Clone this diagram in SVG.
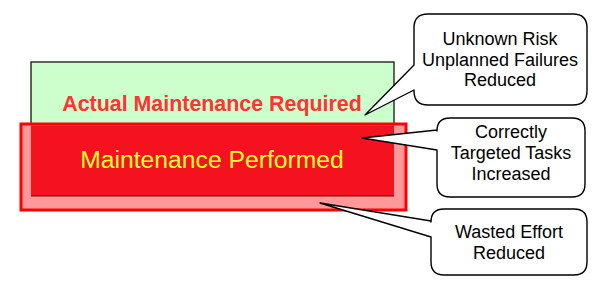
<svg xmlns="http://www.w3.org/2000/svg" width="600" height="297" viewBox="0 0 600 297">
<style>
.callout{fill:#FFFFFF;stroke:#000000;stroke-width:1.4;stroke-linejoin:round}
.ct{font-family:"Liberation Sans",Arial,sans-serif;font-size:18px;fill:#000000;text-anchor:middle}
</style>
<rect width="600" height="297" fill="#FFFFFF"/>
<g id="actual">
<rect x="31" y="62" width="363" height="134" fill="#CCFFCC" stroke="#000000" stroke-width="1.2"/>
<text x="212" y="111" font-family="'Liberation Sans',Arial,sans-serif" font-size="21.4" font-weight="bold" fill="#FF3333" text-anchor="middle">Actual Maintenance Required</text>
</g>
<g id="performed">
<rect x="21" y="124" width="385" height="86" fill="#FF9999" stroke="#FF0000" stroke-width="3"/>
<rect x="31" y="125.5" width="363" height="70.5" fill="#F5121F"/>
<line x1="31" y1="196" x2="394" y2="196" stroke="#800000" stroke-width="1"/>
<text x="212" y="168" font-family="'Liberation Sans',Arial,sans-serif" font-size="24.7" fill="#FFFF33" text-anchor="middle">Maintenance Performed</text>
</g>
<g id="connectors">
<g id="callout1">
<path class="callout" d="M428 14 H573 Q587 14 587 28 V91 Q587 105 573 105 H428 Q414 105 414 91 V90 L365 115 L414 65 V28 Q414 14 428 14 Z"/>
<text class="ct" x="500" y="45">Unknown Risk</text>
<text class="ct" x="500" y="66">Unplanned Failures</text>
<text class="ct" x="500" y="86">Reduced</text>
</g>
<g id="callout2">
<path class="callout" d="M450 118 H572 Q585 118 585 131 V184 Q585 197 572 197 H450 Q437 197 437 184 V150 L362 138 L437 130 V131 Q437 118 450 118 Z"/>
<text class="ct" x="511" y="138">Correctly</text>
<text class="ct" x="511" y="159">Targeted Tasks</text>
<text class="ct" x="511" y="180">Increased</text>
</g>
<g id="callout3">
<path class="callout" d="M444 209 H574 Q587 209 587 222 V262 Q587 275 574 275 H444 Q431 275 431 262 V237 L320 203 L431 221 V222 Q431 209 444 209 Z"/>
<text class="ct" x="509" y="238">Wasted Effort</text>
<text class="ct" x="509" y="259">Reduced</text>
</g>
</g>
</svg>
